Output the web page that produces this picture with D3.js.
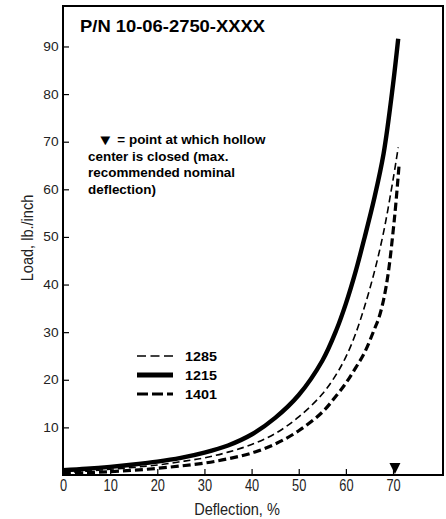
<!DOCTYPE html>
<html>
<head>
<meta charset="utf-8">
<script src="https://cdn.jsdelivr.net/npm/d3@7"></script>
<style>
  html, body { margin: 0; padding: 0; background: #fff; }
  svg { display: block; }
</style>
</head>
<body>
<script>
// Load/deflection curves for P/N 10-06-2750-XXXX
const xTicks = [0, 10, 20, 30, 40, 50, 60, 70];
const yTicks = [10, 20, 30, 40, 50, 60, 70, 80, 90];

const defl1215 = [0, 5, 10, 15, 20, 25, 30, 35, 40, 45, 50, 55, 58, 60, 62, 64, 66, 68, 70, 71.1];
const load1215 = [1.0, 1.3, 1.7, 2.2, 2.8, 3.6, 4.7, 6.2, 8.5, 12.0, 16.8, 24.0, 30.5, 36.0, 42.5, 50.0, 58.0, 67.5, 82.0, 91.6];

const defl1285 = [0, 5, 10, 15, 20, 25, 30, 35, 40, 45, 50, 55, 58, 60, 62, 64, 66, 68, 70, 71.1];
const load1285 = [0.5, 0.8, 1.2, 1.6, 2.1, 2.8, 3.6, 4.8, 6.4, 8.7, 12.2, 17.0, 21.2, 24.8, 29.5, 35.5, 42.5, 51.0, 62.0, 68.8];

const defl1401 = [0, 5, 10, 15, 20, 25, 30, 35, 40, 45, 50, 55, 58, 60, 62, 64, 66, 67, 68, 69, 70, 70.6, 71.3];
const load1401 = [0.3, 0.5, 0.7, 1.0, 1.4, 1.9, 2.5, 3.4, 4.6, 6.5, 9.3, 13.2, 16.7, 19.3, 22.4, 25.8, 30.5, 33.0, 36.8, 42.5, 51.0, 57.0, 65.3];

const seriesNames = ["1285", "1215", "1401"];
const closedPoint = [70.4]; // deflection where the hollow center closes

const noteMarker = "\u25BC";
const noteLines = [
  " = point at which hollow",
  "center is closed (max.",
  "recommended nominal",
  "deflection)"
];

const W = 446, H = 519;
const plotL = 63, plotR = 443, plotT = 6, plotB = 475;
const sans = "Liberation Sans, Arial, Helvetica, sans-serif";

const x = d3.scaleLinear().domain([0, 80.6]).range([plotL, plotR]);
const y = d3.scaleLinear().domain([0, 98.5]).range([plotB, plotT]);

const svg = d3.select("body").append("svg").attr("width", W).attr("height", H);

const styles = {
  "1285": { width: 1.6, dash: "7,4", key: "9,4.5" },
  "1215": { width: 4.4, dash: null, key: null },
  "1401": { width: 3.2, dash: "8,4", key: "11,4" }
};

const data = {
  "1285": d3.zip(defl1285, load1285),
  "1215": d3.zip(defl1215, load1215),
  "1401": d3.zip(defl1401, load1401)
};

// axes with inward ticks
const xAxis = svg.append("g").attr("transform", `translate(0,${plotB})`)
  .call(d3.axisBottom(x).tickValues(xTicks).tickSize(-6).tickPadding(5).tickFormat(d3.format("d")));
const yAxis = svg.append("g").attr("transform", `translate(${plotL},0)`)
  .call(d3.axisLeft(y).tickValues(yTicks).tickSize(-6).tickPadding(4).tickFormat(d3.format("d")));
[xAxis, yAxis].forEach(g => {
  g.select(".domain").remove();
  g.selectAll(".tick line").attr("stroke", "#000").attr("stroke-width", 1.2);
  g.selectAll(".tick text").attr("font-family", sans).attr("fill", "#222");
});
xAxis.selectAll(".tick text").attr("font-size", 16).attr("transform", "scale(0.8,1)");
yAxis.selectAll(".tick text").attr("font-size", 12.5).attr("transform", "scale(1.1,1)");

// frame
svg.append("rect")
  .attr("x", plotL).attr("y", plotT)
  .attr("width", plotR - plotL).attr("height", plotB - plotT)
  .attr("fill", "none").attr("stroke", "#000").attr("stroke-width", 2);

// curves
const line = d3.line().x(d => x(d[0])).y(d => y(d[1])).curve(d3.curveCatmullRom.alpha(0.5));
seriesNames.forEach(name => {
  svg.append("path")
    .datum(data[name])
    .attr("d", line)
    .attr("fill", "none")
    .attr("stroke", "#000")
    .attr("stroke-width", styles[name].width)
    .attr("stroke-dasharray", styles[name].dash);
});

// closure marker on the deflection axis
closedPoint.forEach(v => {
  const cx = x(v), by = y(0) - 1;
  svg.append("path")
    .attr("d", `M${cx - 5.5},${by - 11}L${cx + 5.5},${by - 11}L${cx},${by}Z`)
    .attr("fill", "#000");
});

// title
svg.append("text")
  .attr("transform", "translate(80,32) scale(1.15,1)")
  .attr("font-family", sans)
  .attr("font-weight", "bold").attr("font-size", 16)
  .text("P/N 10-06-2750-XXXX");

// note
const note = svg.append("g").selectAll("text").data(noteLines).join("text")
  .attr("transform", (d, i) => `translate(${i === 0 ? 97 : 88},${144 + i * 16.7}) scale(1.12,1)`)
  .attr("font-family", sans)
  .attr("font-weight", "bold").attr("font-size", 12);
note.each(function(d, i) {
  const t = d3.select(this);
  if (i === 0) {
    t.append("tspan").attr("font-size", 15).attr("dy", 0.5).text(noteMarker);
    t.append("tspan").attr("dy", -0.5).text(d);
  } else {
    t.text(d);
  }
});

// legend
const legend = svg.append("g");
seriesNames.forEach((name, i) => {
  const ly = 356 + i * 19;
  legend.append("line")
    .attr("x1", 137).attr("x2", 173).attr("y1", ly).attr("y2", ly)
    .attr("stroke", "#000")
    .attr("stroke-width", name === "1215" ? 5 : styles[name].width)
    .attr("stroke-dasharray", styles[name].key);
  legend.append("text")
    .attr("transform", `translate(185,${ly + 4.5}) scale(1.15,1)`)
    .attr("font-family", sans)
    .attr("font-weight", "bold").attr("font-size", 12.5)
    .text(name);
});

// axis titles
svg.append("text")
  .attr("transform", "translate(237,515) scale(0.91,1)")
  .attr("text-anchor", "middle")
  .attr("font-family", sans)
  .attr("font-size", 16).attr("fill", "#222")
  .text("Deflection, %");
svg.append("text")
  .attr("transform", "translate(33,238) rotate(-90) scale(0.91,1)")
  .attr("text-anchor", "middle")
  .attr("font-family", sans)
  .attr("font-size", 16).attr("fill", "#222")
  .text("Load, lb./inch");
</script>
</body>
</html>
